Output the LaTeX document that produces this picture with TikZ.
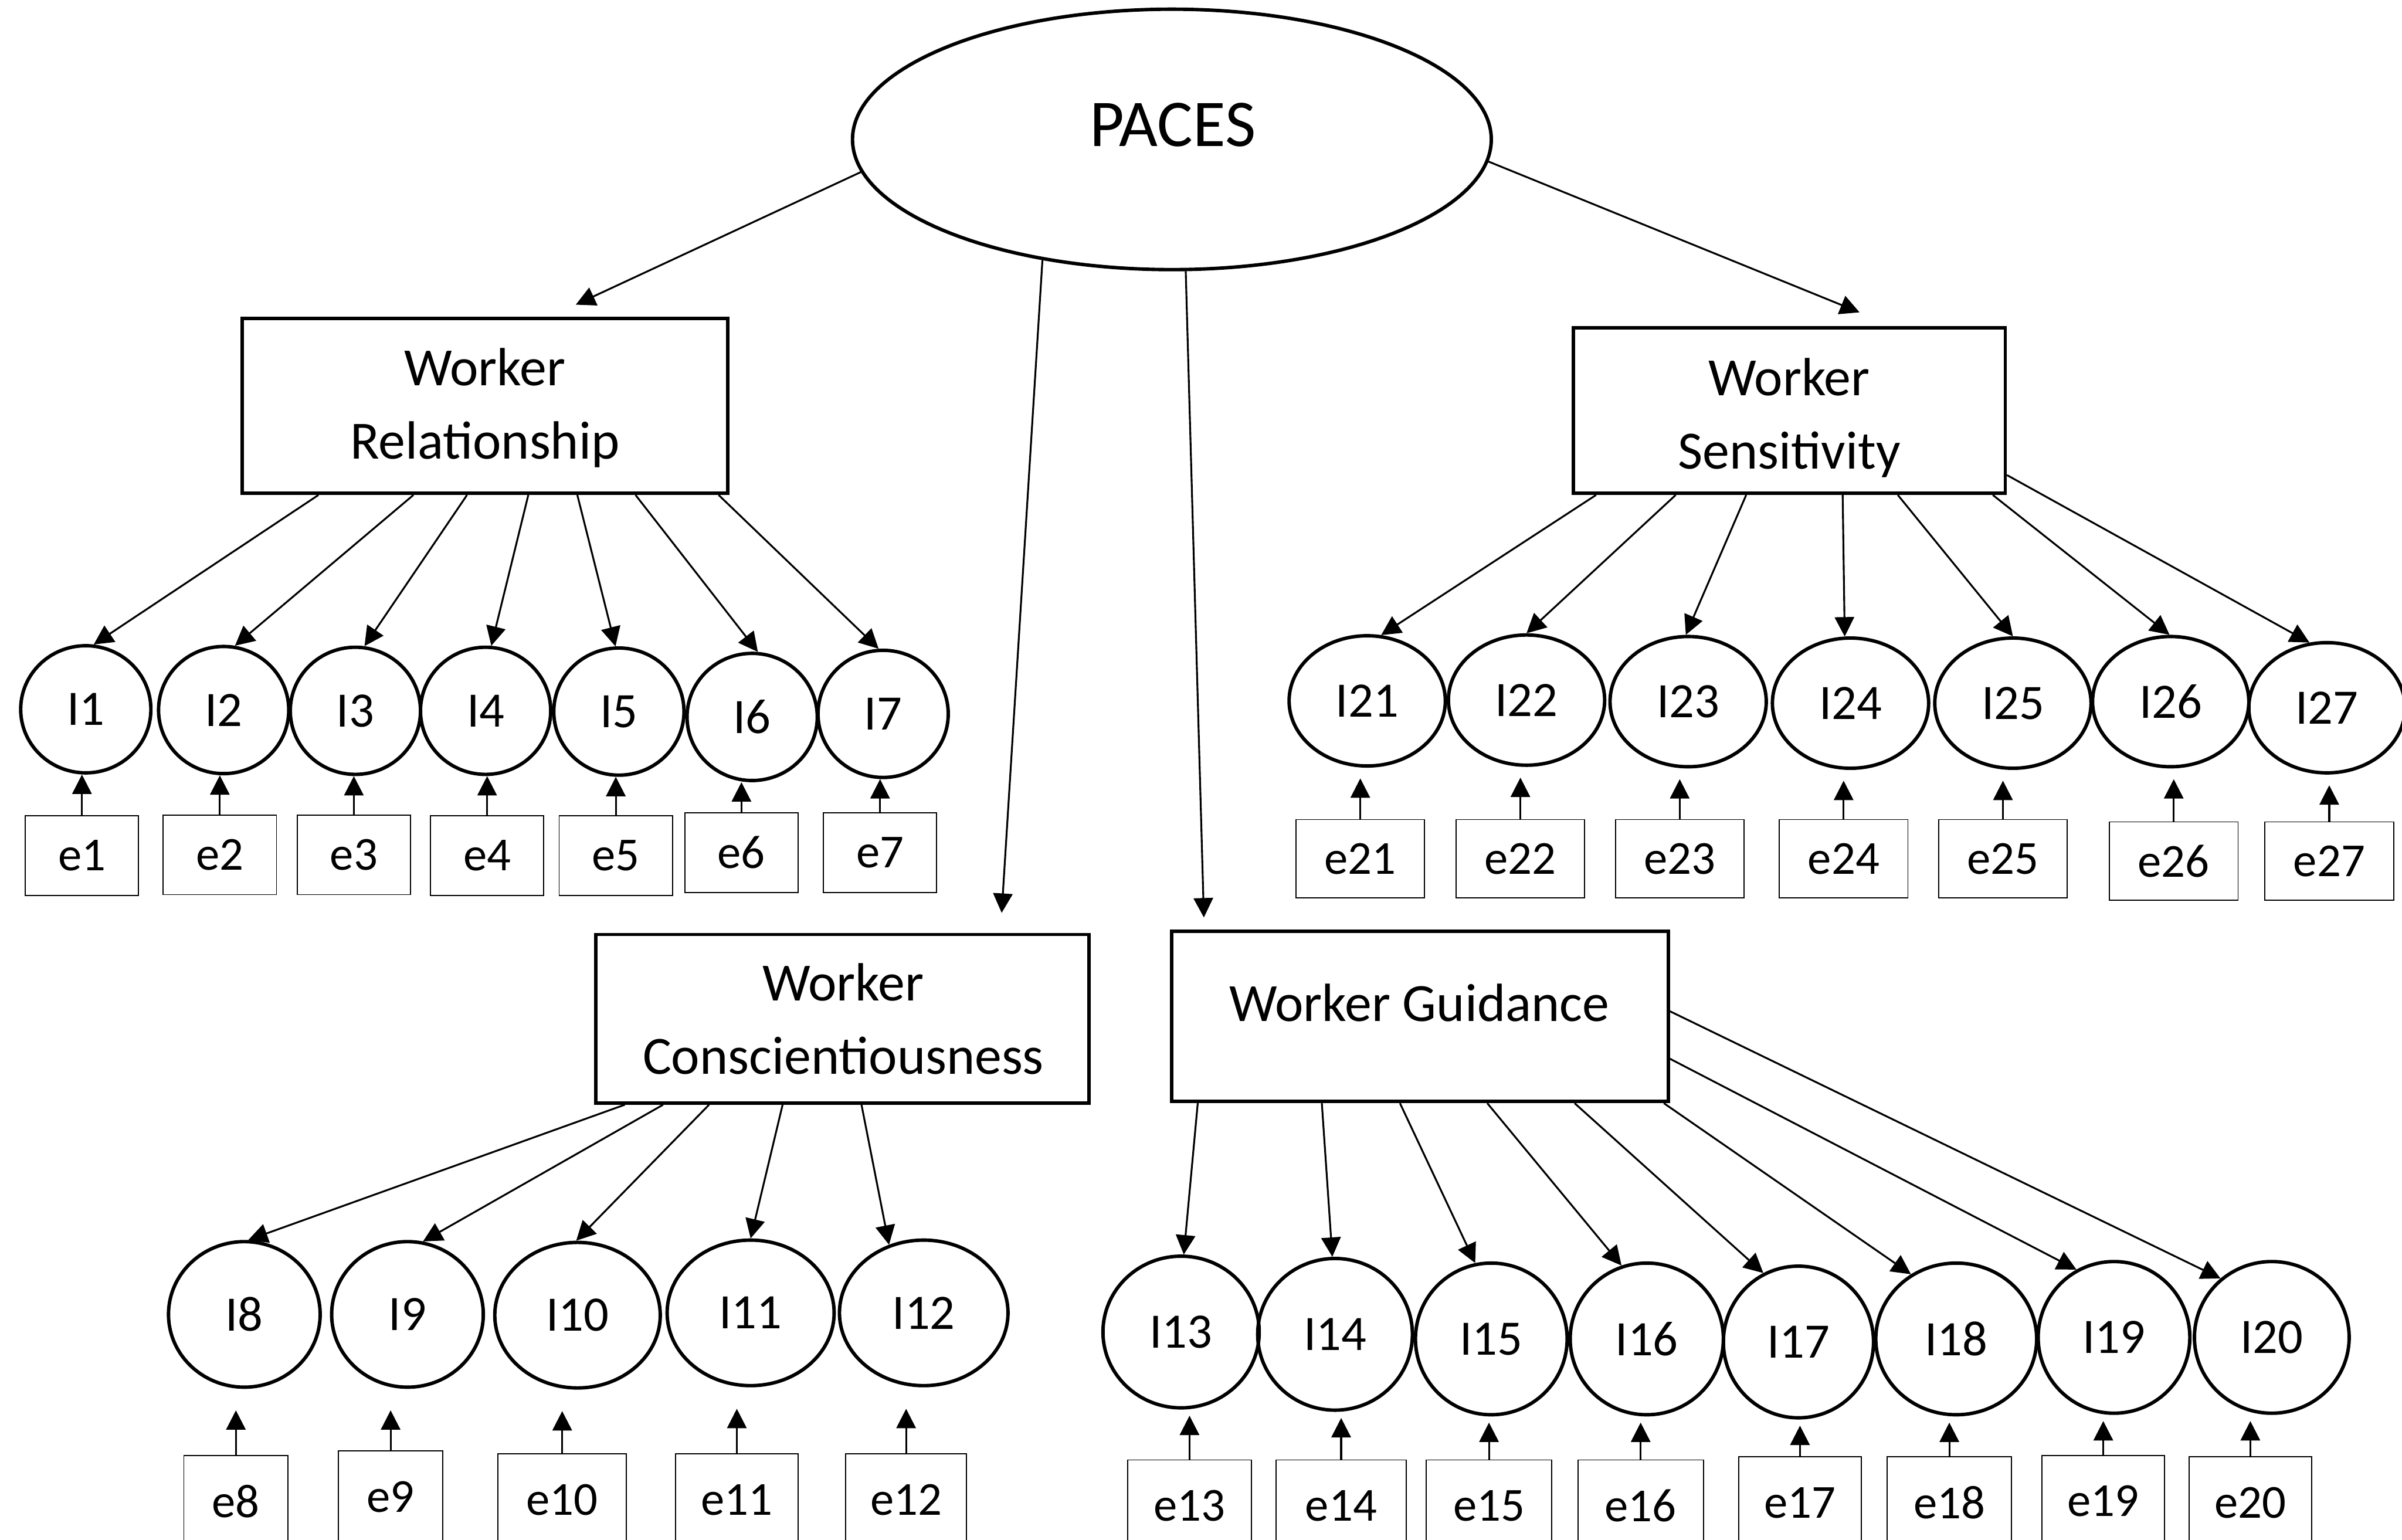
\documentclass[tikz,border=0pt]{standalone}
\usepackage{fontspec}
\setmainfont{Carlito}
\usetikzlibrary{shapes.geometric,arrows.meta,calc}
\def\pxu{0.025cm}
\tikzset{
 lat/.style 2 args={ellipse, draw, line width=1.6pt, inner sep=0pt, minimum width=#1*\pxu, minimum height=#2*\pxu, font=\fontsize{23}{27}\selectfont},
 fac/.style 2 args={rectangle, draw, line width=1.6pt, inner sep=0pt, minimum width=#1*\pxu, minimum height=#2*\pxu},
 err/.style 2 args={rectangle, draw, line width=0.5pt, inner sep=0pt, minimum width=#1*\pxu, minimum height=#2*\pxu, font=\fontsize{22}{26}\selectfont},
 factxt/.style={font=\fontsize{25}{34}\selectfont, align=center, inner sep=0pt},
 arr/.style={-{Triangle[length=9pt,width=9pt]}, line width=0.85pt},
}
\begin{document}
\begin{tikzpicture}[x=0.025cm,y=-0.025cm]
\useasboundingbox (0,0) rectangle (1568,1005);
\fill[white] (0,0) rectangle (1568,1005);
\clip (0,0) rectangle (1568,1005);

% top factor
\node[ellipse,draw,line width=1.6pt,minimum width=417*\pxu,minimum height=170*\pxu,inner sep=0pt] (paces) at (765,91) {};
\node[font=\fontsize{31}{36}\selectfont, inner sep=0pt] (pacest) at (765.5,81.6) {PACES};

% first-order factors
\node[fac={317}{114}] (WR) at (316.5,265) {};
\node[factxt] (WRt) at (316.5,266.3) {Worker\\Relationship};
\node[fac={282}{108}] (WS) at (1168,268) {};
\node[factxt] (WSt) at (1168,272.8) {Worker\\Sensitivity};
\node[fac={322}{110}] (WC) at (550,665) {};
\node[factxt] (WCt) at (550.5,665) {Worker\\Conscientiousness};
\node[fac={324}{111}] (WG) at (927,663.5) {};
\node[factxt] (WGt) at (926.5,654.5) {Worker Guidance};

% items row 1
\foreach \n/\x/\y in {1/56/463, 2/146/463.5, 3/232/464, 4/317/464, 5/404/464.5, 6/491/468, 7/576.5/466}
  \node[lat={85}{83}] (I\n) at (\x,\y) {I\n};
\foreach \n/\x/\y in {1/53.5/558.5, 2/143.5/558, 3/231/558, 4/318/558.5, 5/402/558.5, 6/484/556.5, 7/574.5/556.5}
  \node[err={74}{52}] (e\n) at (\x,\y) {e\n};

% items row 2
\foreach \n/\x/\y in {21/892.5/457.5, 22/996.5/457, 23/1102/458, 24/1208/459, 25/1314/459, 26/1417/458, 27/1519/462}
  \node[lat={102}{85}] (I\n) at (\x,\y) {I\n};
\foreach \n/\x/\y in {21/888/560.5, 22/992.5/560.5, 23/1096.5/560.5, 24/1203.5/560.5, 25/1307.5/560.5, 26/1419/562, 27/1520.5/562}
  \node[err={84}{51}] (e\n) at (\x,\y) {e\n};

% items row 3
\foreach \n/\x/\y/\w in {8/159.5/858/99, 9/266/858/99, 10/377/858.5/108, 11/490/857/109, 12/603/857/110}
  \node[lat={\w}{95}] (I\n) at (\x,\y) {I\n};
\foreach \n/\x/\y/\w in {8/154/980/68, 9/255/977/68, 10/367/979/84, 11/481/979/80, 12/591.5/979/79}
  \node[err={\w}{60}] (e\n) at (\x,\y) {e\n};

% items row 4
\foreach \n/\x/\y/\w in {13/771/869.5/102, 14/871.5/871/101, 15/973.5/874/99, 16/1075/874/100, 17/1174/876/98, 18/1277/874/105, 19/1380/873/99, 20/1483/873/101}
  \node[lat={\w}{99}] (I\n) at (\x,\y) {I\n};
\foreach \n/\x/\y/\w in {13/776.5/983/81, 14/875.5/983/85, 15/972/983/82, 16/1071/983/82, 17/1175/981/80, 18/1272.5/981/81, 19/1373/980/80, 20/1469/981/80}
  \node[err={\w}{60}] (e\n) at (\x,\y) {e\n};

% error arrows
\foreach \n in {1,...,7}
  \draw[arr] (e\n.north) -- (e\n.north |- I\n.south);
\foreach \n in {21,...,27}
  \draw[arr, shorten >=0.175cm] (e\n.north) -- (e\n.north |- I\n.south);
\foreach \n in {8,...,12}
  \draw[arr, shorten >=0.35cm] (e\n.north) -- (e\n.north |- I\n.south);
\foreach \n in {13,...,20}
  \draw[arr, shorten >=0.1cm] (e\n.north) -- (e\n.north |- I\n.south);

% second-order loadings
\draw[arr] (paces.186) -- ($(WR.north west)+(219,-8)$);
\draw[arr] (paces.223) -- ($(WC.north west)+(266,-13)$);
\draw[arr] (paces.276) -- ($(WG.north west)+(22,-8)$);
\draw[arr] (paces.356) -- ($(WS.north west)+(188,-9)$);

% loadings
\foreach \dx/\t/\a in {51/1/83, 113/2/80, 148/3/82, 188/4/85, 220/5/93, 258/6/85}
  \draw[arr] ($(WR.south west)+(\dx,0)$) -- (I\t.\a);
\draw[arr] ($(WR.south east)+(-7,0)$) -- (I7.94);

\foreach \dx/\t/\a in {16/21/78, 68/22/90, 114/23/92, 177/24/95, 213/25/90, 275/26/91}
  \draw[arr] ($(WS.south west)+(\dx,0)$) -- (I\t.\a);
\draw[arr] ($(WS.south east)+(0,-13)$) -- (I27.105);

\foreach \dx/\t/\a in {20/8/87, 45/9/78, 75/10/91, 123/11/90, 174.5/12/117}
  \draw[arr] ($(WC.south west)+(\dx,0)$) -- (I\t.\a);

\foreach \dx/\t/\a in {18/13/88, 99/14/92, 150/15/102, 207/16/109, 264/17/117}
  \draw[arr] ($(WG.south west)+(\dx,0)$) -- (I\t.\a);
\draw[arr] ($(WG.south east)+(-4,0)$) -- (I18.125);
\draw[arr] ($(WG.south east)+(0,-29)$) -- (I19.119);
\draw[arr] ($(WG.south east)+(0,-60)$) -- (I20.131);
\end{tikzpicture}
\end{document}
